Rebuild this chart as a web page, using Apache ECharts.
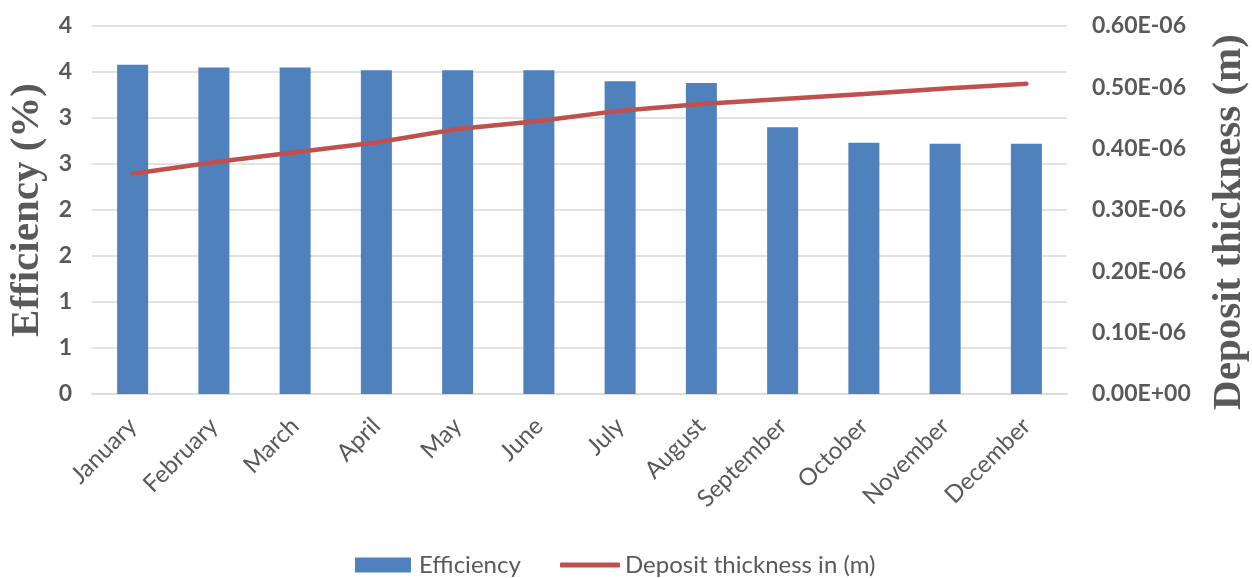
<!DOCTYPE html>
<html>
<head>
<meta charset="utf-8">
<script src="https://cdn.jsdelivr.net/npm/echarts@6/dist/echarts.min.js"></script>
<style>
  html, body { margin: 0; padding: 0; background: #ffffff; overflow: hidden; }
  #chart { width: 1252px; height: 578px; }
</style>
</head>
<body>
<div id="chart"></div>
<script>
// Monthly categories
const months = ['January', 'February', 'March', 'April', 'May', 'June',
                'July', 'August', 'September', 'October', 'November', 'December'];

// Efficiency (%) per month
const efficiency = [3.58, 3.55, 3.55, 3.52, 3.52, 3.52, 3.40, 3.38, 2.90, 2.73, 2.72, 2.72];

// Deposit thickness (m) per month
const thickness = [3.59e-7, 3.78e-7, 3.94e-7, 4.10e-7, 4.32e-7, 4.45e-7,
                   4.62e-7, 4.73e-7, 4.81e-7, 4.89e-7, 4.98e-7, 5.06e-7];

const textGray = '#595959';
const sans = 'Lato, "Open Sans", sans-serif';
const serif = '"Liberation Serif", "DejaVu Serif", serif';

function sciLabel(v) {
  if (Math.abs(v) < 1e-12) return '0.00E+00';
  return (v / 1e-6).toFixed(2) + 'E-06';
}

const legendText = { color: textGray, fontFamily: sans, fontSize: 24, padding: [0, 0, 0, 3] };

const chart = echarts.init(document.getElementById('chart'), null, { renderer: 'canvas' });

chart.setOption({
  animation: false,
  backgroundColor: '#ffffff',
  grid: { left: 92, right: 185, top: 26, bottom: 184, containLabel: false, outerBoundsMode: 'none' },
  legend: [
    {
      left: 350,
      top: 548,
      itemWidth: 56,
      itemHeight: 15,
      textStyle: legendText,
      data: [{ name: 'Efficiency', icon: 'rect' }]
    },
    {
      left: 555,
      top: 548,
      itemWidth: 60,
      itemHeight: 5,
      textStyle: Object.assign({}, legendText, { padding: [0, 0, 0, 0] }),
      data: [{ name: 'Deposit thickness in (m)', icon: 'roundRect' }]
    }
  ],
  xAxis: {
    type: 'category',
    data: months,
    axisLine: { show: true, lineStyle: { color: '#d9d9d9', width: 1.5 } },
    axisTick: { show: false },
    axisLabel: {
      rotate: 45,
      color: textGray,
      fontFamily: sans,
      fontSize: 24,
      margin: 28,
      interval: 0
    }
  },
  yAxis: [
    {
      type: 'value',
      min: 0,
      max: 4,
      interval: 0.5,
      name: 'Efficiency (%)',
      nameLocation: 'middle',
      nameGap: 42,
      nameTextStyle: { color: textGray, fontFamily: serif, fontWeight: 'bold', fontSize: 41 },
      axisLine: { show: false },
      axisTick: { show: false },
      splitLine: { lineStyle: { color: '#d9d9d9', width: 1.5 } },
      axisLabel: {
        color: textGray,
        fontFamily: sans,
        fontWeight: 'bold',
        fontSize: 23,
        margin: 20,
        formatter: v => v.toFixed(0)
      }
    },
    {
      type: 'value',
      min: 0,
      max: 6e-7,
      interval: 1e-7,
      name: 'Deposit thickness (m)',
      nameLocation: 'middle',
      nameGap: 142,
      nameRotate: 90,
      nameTextStyle: {
        color: textGray, fontFamily: serif, fontWeight: 'bold', fontSize: 41,
        padding: [0, 24, 0, 0]
      },
      axisLine: { show: false },
      axisTick: { show: false },
      splitLine: { show: false },
      axisLabel: {
        color: textGray,
        fontFamily: sans,
        fontWeight: 'bold',
        fontSize: 23,
        margin: 25,
        formatter: sciLabel
      }
    }
  ],
  series: [
    {
      name: 'Efficiency',
      type: 'bar',
      yAxisIndex: 0,
      data: efficiency,
      barWidth: 31,
      itemStyle: { color: '#4f81bd' }
    },
    {
      name: 'Deposit thickness in (m)',
      type: 'line',
      yAxisIndex: 1,
      data: thickness,
      symbol: 'none',
      lineStyle: { color: '#c0504d', width: 4.5, cap: 'round' },
      itemStyle: { color: '#c0504d' }
    }
  ]
});
</script>
</body>
</html>
